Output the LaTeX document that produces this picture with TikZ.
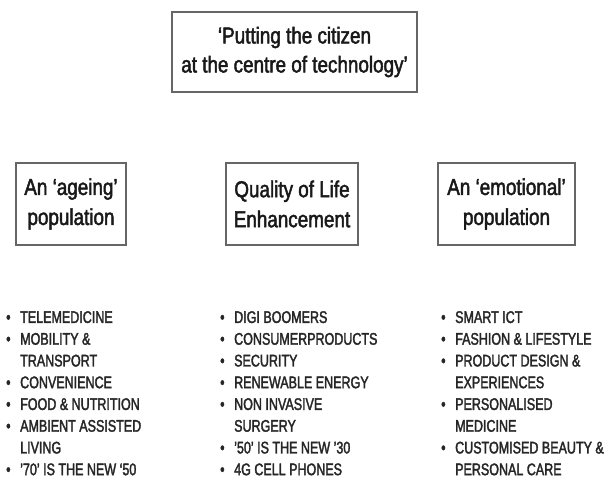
\documentclass[tikz,border=0pt]{standalone}
\usepackage{fontspec}
\setmainfont{Liberation Sans}[FakeStretch=0.82,FakeBold=2]
\newfontfamily\policeliste{Liberation Sans}[FakeStretch=0.745,FakeBold=2]
\newcommand{\puce}{\makebox[14pt][l]{\textbullet}}
\newcommand{\suite}{\hspace*{14pt}}
\begin{document}
\begin{tikzpicture}[x=1pt,y=-1pt]
		\tikzstyle{cadre}=[draw=black!60,line width=1.4pt,fill=white,align=center,inner sep=0pt,text=black!90]
		\tikzstyle{titre}=[cadre,minimum width=245pt,minimum height=80pt,font=\fontsize{23}{29}\selectfont]
		\tikzstyle{theme}=[cadre,minimum height=82pt,font=\fontsize{23}{30}\selectfont]
		\tikzstyle{liste}=[anchor=north west,align=left,inner sep=0pt,text=black!85,font=\policeliste\fontsize{16.8}{21.75}\selectfont]
		
		\def\HautListe{311}
		\def\HautTheme{204}
		
		\useasboundingbox (0,0) rectangle (606,484);
		
		\node[titre] (T) at (294.5,52) {‘Putting the citizen\\at the centre of technology’};
		
		\node[theme,minimum width=110pt] (A) at (71,\HautTheme) {An ‘ageing’\\population};
		\node[theme,minimum width=132pt] (B) at (292,\HautTheme) {Quality of Life\\Enhancement};
		\node[theme,minimum width=137pt] (C) at (506.5,\HautTheme) {An ‘emotional’\\population};
		
		\node[liste] (LA) at (6,\HautListe) {\puce TELEMEDICINE\\
			\puce MOBILITY \&\\
			\suite TRANSPORT\\
			\puce CONVENIENCE\\
			\puce FOOD \& NUTRITION\\
			\puce AMBIENT ASSISTED\\
			\suite LIVING\\
			\puce ’70’ IS THE NEW ‘50};
		\node[liste] (LB) at (220,\HautListe) {\puce DIGI BOOMERS\\
			\puce CONSUMERPRODUCTS\\
			\puce SECURITY\\
			\puce RENEWABLE ENERGY\\
			\puce NON INVASIVE\\
			\suite SURGERY\\
			\puce ’50’ IS THE NEW ’30\\
			\puce 4G CELL PHONES};
		\node[liste] (LC) at (441,\HautListe) {\puce SMART ICT\\
			\puce FASHION \& LIFESTYLE\\
			\puce PRODUCT DESIGN \&\\
			\suite EXPERIENCES\\
			\puce PERSONALISED\\
			\suite MEDICINE\\
			\puce CUSTOMISED BEAUTY \&\\
			\suite PERSONAL CARE};
	\end{tikzpicture}
\end{document}
